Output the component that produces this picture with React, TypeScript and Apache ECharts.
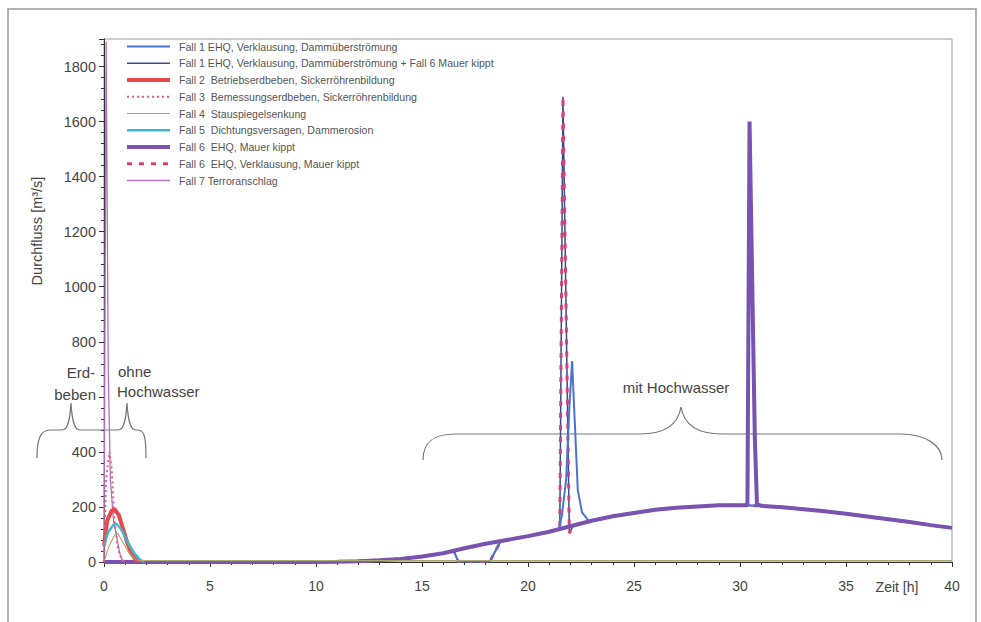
import React, { useEffect, useRef } from "react";
import * as echarts from "echarts";

// Flood hydrograph (EHQ) in m³/s over time in h
const hydroT = [0, 10, 11, 12, 13, 14, 15, 16, 17, 18, 19, 20, 21, 22, 23, 24, 25, 26, 27, 28, 29, 30, 31, 32, 33, 34, 35, 36, 37, 38, 39, 40];
const hydroQ = [0, 0, 1, 3, 6, 11, 20, 32, 50, 66, 80, 94, 110, 130, 150, 166, 178, 190, 197, 202, 206, 206, 204, 199, 192, 184, 175, 165, 155, 145, 134, 124];

// Verklausung: outflow drops
const verklT = [16.5, 16.7, 18.2, 18.7];
const verklQ = [41, 2, 2, 74];

// Fall 1 overtopping breach
const fall1SpikeT = [21.45, 21.6, 21.8, 21.95, 22.08, 22.2, 22.35, 22.55, 22.85];
const fall1SpikeQ = [118, 170, 300, 560, 730, 520, 260, 180, 150];

// Fall 1 + Fall 6 / Fall 6 Verklausung breach
const bruchSpikeT = [21.5, 21.65, 21.95, 22.15];
const bruchSpikeQ = [120, 1690, 105, 134];

// Fall 6 Mauer kippt
const mauerSpikeT = [30.35, 30.45, 30.7, 30.8];
const mauerSpikeQ = [206, 1600, 450, 210];

// Early cases (without flood)
const fall2T = [0, 0.15, 0.35, 0.5, 0.7, 0.9, 1.1, 1.3, 1.5, 1.7];
const fall2Q = [60, 150, 185, 192, 170, 120, 70, 30, 8, 0];
const fall3T = [0, 0.1, 0.25, 0.35, 0.5, 0.65, 0.8, 1.0];
const fall3Q = [0, 300, 400, 350, 150, 50, 15, 0];
const fall4T = [0, 0.2, 0.5, 0.65, 0.9, 1.2, 1.5, 1.8, 40];
const fall4Q = [0, 50, 98, 104, 70, 30, 8, 5, 5];
const fall5T = [0, 0.2, 0.45, 0.6, 0.8, 1.1, 1.4, 1.7, 1.9];
const fall5Q = [60, 110, 135, 138, 120, 75, 35, 8, 0];
const fall7T = [0, 0.1, 0.2, 0.3, 0.45, 0.6, 0.75, 0.9];
const fall7Q = [0, 1890, 700, 300, 150, 90, 30, 0];

// y tick label hidden behind the "Erdbeben / ohne Hochwasser" annotation
const hiddenYLabels = [600];

const legendNames = [
  "Fall 1 EHQ, Verklausung, Dammüberströmung",
  "Fall 1 EHQ, Verklausung, Dammüberströmung + Fall 6 Mauer kippt",
  "Fall 2  Betriebserdbeben, Sickerröhrenbildung",
  "Fall 3  Bemessungserdbeben, Sickerröhrenbildung",
  "Fall 4  Stauspiegelsenkung",
  "Fall 5  Dichtungsversagen, Dammerosion",
  "Fall 6  EHQ, Mauer kippt",
  "Fall 6  EHQ, Verklausung, Mauer kippt",
  "Fall 7 Terroranschlag",
];

function pairs(t: number[], q: number[]) {
  return t.map((x, i) => [x, q[i]]);
}

function withEvents(...events: [number[], number[]][]) {
  const pts: number[][] = [];
  hydroT.forEach((t, i) => {
    if (!events.some(([et]) => t >= et[0] && t <= et[et.length - 1])) pts.push([t, hydroQ[i]]);
  });
  events.forEach(([et, eq]) => et.forEach((t, i) => pts.push([t, eq[i]])));
  return pts.sort((a, b) => a[0] - b[0]);
}

const braceLeft =
  "M37,458 C37,440 40,430 50,430 L62,430 C68,430 70,420 71,403 C72,420 74,430 80,430 L118,430 C124,430 126,420 127,403 C128,420 130,430 136,430 L138,430 C145,430 146,440 146,458";
const braceRight =
  "M423,460 C423,445 430,434 455,434 L640,434 C665,434 678,425 681,407 C684,425 697,434 722,434 L900,434 C925,434 942,445 942,460";

export default function App() {
  const ref = useRef<HTMLDivElement>(null);
  useEffect(() => {
    if (!ref.current) return;
    echarts.graphic.registerShape("braceL", echarts.graphic.extendPath(braceLeft, {}));
    echarts.graphic.registerShape("braceR", echarts.graphic.extendPath(braceRight, {}));
    const chart = echarts.init(ref.current, undefined, { renderer: "svg" });
    const font = "'Liberation Sans', Arial, sans-serif";
    const line = (name: string, data: number[][], color: string, width: number, type: any = "solid") => ({
      name,
      type: "line",
      data,
      showSymbol: false,
      symbol: "none",
      lineStyle: { color, width, type },
      itemStyle: { color },
    });
    chart.setOption({
      animation: false,
      backgroundColor: "#ffffff",
      textStyle: { fontFamily: font },
      grid: { left: 104, right: 29, top: 39, bottom: 60, show: true, borderColor: "#9a9a9a", borderWidth: 1 },
      legend: {
        data: legendNames,
        orient: "vertical",
        left: 125,
        top: 40,
        padding: [0, 0, 0, 0],
        itemWidth: 43,
        itemHeight: 12,
        itemGap: 3.75,
        itemStyle: { opacity: 0 },
        lineStyle: { width: "inherit" },
        textStyle: { fontSize: 10.6, color: "#555", fontFamily: font, padding: [0, 0, 0, 4], lineHeight: 13 },
      },
      xAxis: {
        type: "value",
        min: 0,
        max: 40,
        interval: 5,
        axisLine: { lineStyle: { color: "#333" } },
        axisTick: { length: 5, lineStyle: { color: "#333" } },
        minorTick: { show: true, splitNumber: 5, length: 3, lineStyle: { color: "#333" } },
        splitLine: { show: false },
        axisLabel: { fontSize: 14, color: "#444", margin: 17, fontFamily: font },
      },
      yAxis: {
        type: "value",
        min: 0,
        max: 1900,
        interval: 200,
        axisLine: { show: true, lineStyle: { color: "#333" } },
        axisTick: { show: true, length: 5, lineStyle: { color: "#333" } },
        minorTick: { show: true, splitNumber: 5, length: 3, lineStyle: { color: "#333" } },
        splitLine: { show: false },
        axisLabel: {
          fontSize: 14.5,
          color: "#444",
          margin: 8,
          showMaxLabel: false,
          fontFamily: font,
          formatter: (v: number) => (hiddenYLabels.includes(v) ? "" : String(v)),
        },
      },
      series: [
        line(legendNames[1], withEvents([verklT, verklQ], [bruchSpikeT, bruchSpikeQ]), "#3a4a8a", 1.5),
        line(legendNames[7], withEvents([verklT, verklQ], [bruchSpikeT, bruchSpikeQ]), "#d8407a", 3, [5, 7]),
        line(legendNames[0], withEvents([verklT, verklQ], [fall1SpikeT, fall1SpikeQ]), "#4a74d0", 2),
        line(legendNames[6], withEvents([mauerSpikeT, mauerSpikeQ]), "#7a52b0", 4),
        line(legendNames[8], pairs(fall7T, fall7Q), "#b070c0", 1.3),
        line(legendNames[2], pairs(fall2T, fall2Q), "#e84a4a", 4),
        line(legendNames[5], pairs(fall5T, fall5Q), "#3cb8d0", 2.5),
        line(legendNames[4], pairs(fall4T, fall4Q), "#a8a870", 1.1),
        line(legendNames[3], pairs(fall3T, fall3Q), "#e85a7a", 1.8, [2, 3]),
      ],
      graphic: [
        { type: "rect", shape: { x: 8, y: 9, width: 968, height: 640 }, style: { fill: "none", stroke: "#9a9a9a", lineWidth: 1.5 }, silent: true },
        { type: "braceL", x: 0, y: 0, style: { fill: "none", stroke: "#777", lineWidth: 1.2 }, silent: true },
        { type: "braceR", x: 0, y: 0, style: { fill: "none", stroke: "#777", lineWidth: 1.2 }, silent: true },
        { type: "text", x: 95, y: 372, style: { text: "Erd-", fill: "#444", font: `15px ${font}`, align: "right", verticalAlign: "middle" } },
        { type: "text", x: 96, y: 394, style: { text: "beben", fill: "#444", font: `15px ${font}`, align: "right", verticalAlign: "middle" } },
        { type: "text", x: 118, y: 371, style: { text: "ohne", fill: "#444", font: `15px ${font}`, align: "left", verticalAlign: "middle" } },
        { type: "text", x: 117, y: 391, style: { text: "Hochwasser", fill: "#444", font: `15px ${font}`, align: "left", verticalAlign: "middle" } },
        { type: "text", x: 676, y: 387, style: { text: "mit Hochwasser", fill: "#444", font: `15px ${font}`, align: "center", verticalAlign: "middle" } },
        { type: "text", x: 897, y: 587, style: { text: "Zeit [h]", fill: "#444", font: `14px ${font}`, align: "center", verticalAlign: "middle" } },
        { type: "text", x: 37, y: 231, rotation: Math.PI / 2, style: { text: "Durchfluss [m³/s]", fill: "#444", font: `14.5px ${font}`, align: "center", verticalAlign: "middle" } },
      ],
    });
    return () => chart.dispose();
  }, []);
  return <div ref={ref} style={{ position: "fixed", left: 0, top: 0, width: 981, height: 622 }} />;
}
